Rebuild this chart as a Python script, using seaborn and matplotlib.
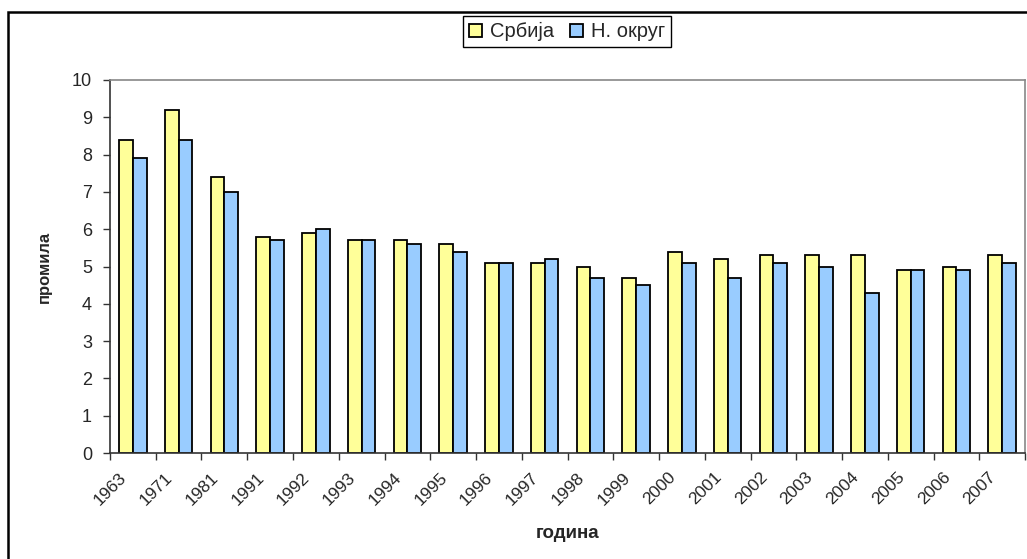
import pandas as pd
import matplotlib.pyplot as plt
import matplotlib.transforms as mtransforms
from matplotlib.patches import Rectangle
import seaborn as sns

years = ["1963", "1971", "1981", "1991", "1992", "1993", "1994", "1995", "1996", "1997",
         "1998", "1999", "2000", "2001", "2002", "2003", "2004", "2005", "2006", "2007"]
srbija = [8.4, 9.2, 7.4, 5.8, 5.9, 5.7, 5.7, 5.6, 5.1, 5.1,
          5.0, 4.7, 5.4, 5.2, 5.3, 5.3, 5.3, 4.9, 5.0, 5.3]
okrug = [7.9, 8.4, 7.0, 5.7, 6.0, 5.7, 5.6, 5.4, 5.1, 5.2,
         4.7, 4.5, 5.1, 4.7, 5.1, 5.0, 4.3, 4.9, 4.9, 5.1]
series = ["Србија", "Н. округ"]
colors = ["#FFFF99", "#99CCFF"]

df = pd.DataFrame({"година": years * 2,
                   "серија": [series[0]] * len(years) + [series[1]] * len(years),
                   "промила": srbija + okrug})

sns.set_style("white")
plt.rcParams['font.family'] = ['Liberation Sans', 'DejaVu Sans']

fig = plt.figure(figsize=(10.27, 5.59), dpi=100)
ax = fig.add_axes([0.1071, 0.1896, 0.891, 0.6673])

sns.barplot(data=df, x="година", y="промила", hue="серија", palette=colors,
            saturation=1, width=0.6, edgecolor="black", linewidth=1.3, gap=0, ax=ax)

ax.set_ylim(0, 10)
ax.set_xlim(-0.5, len(years) - 0.5)
ax.set_yticks(range(0, 11))
ax.tick_params(axis='y', labelsize=13, length=5, width=1, direction='out',
               left=True, color='#333333', pad=8)

# category boundary ticks, labels at the categories
ax.set_xticks(range(len(years)))
ax.set_xticklabels(years, rotation=45, ha='right', rotation_mode='anchor', fontsize=12.5)
ax.set_xticks([i - 0.5 for i in range(len(years) + 1)], minor=True)
ax.tick_params(axis='x', which='major', length=0, pad=12)
ax.tick_params(axis='x', which='minor', length=5, width=1, direction='out',
               bottom=True, color='#333333')
offset = mtransforms.ScaledTranslation(-10 / 72, 0, fig.dpi_scale_trans)
for lab in ax.get_xticklabels():
    lab.set_transform(lab.get_transform() + offset)

for side in ['top', 'right']:
    ax.spines[side].set_color('#888888')
    ax.spines[side].set_linewidth(1.2)
for side in ['left', 'bottom']:
    ax.spines[side].set_color('#333333')
    ax.spines[side].set_linewidth(1.2)
ax.grid(False)

ax.set_ylabel("промила", fontsize=12, fontweight='bold', labelpad=14)
ax.set_xlabel("година", fontsize=13.5, fontweight='bold', labelpad=12)

ax.legend(loc='center', bbox_to_anchor=(0.552, 0.943), bbox_transform=fig.transFigure,
          ncol=2, fontsize=14.5, frameon=True, fancybox=False, edgecolor='black',
          handlelength=0.65, handleheight=0.65, handletextpad=0.4, columnspacing=0.8,
          borderpad=0.3, framealpha=1)
ax.get_legend().get_frame().set_linewidth(1.0)

# outer chart border (left and top visible)
fig.patches.append(Rectangle((8 / 1027, -0.05), 1.2, 1.05 - 12 / 559,
                             transform=fig.transFigure, fill=False,
                             edgecolor='black', linewidth=1.8))

fig.savefig("out.png", dpi=100)
